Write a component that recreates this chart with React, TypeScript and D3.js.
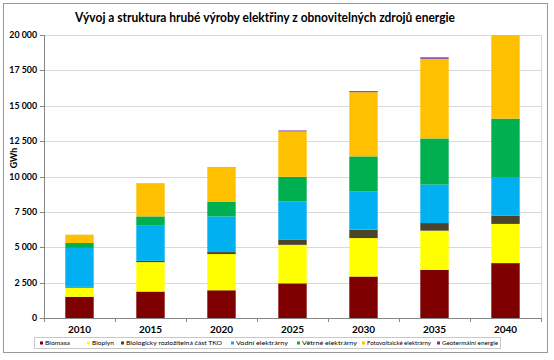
import React from 'react'
import * as d3 from 'd3'

const years = ['2010', '2015', '2020', '2025', '2030', '2035', '2040']
const biomasa = [1500, 1870, 1960, 2450, 2930, 3400, 3880]
const bioplyn = [650, 2080, 2560, 2720, 2720, 2770, 2770]
const tko = [50, 90, 140, 380, 590, 540, 590]
const vodni = [2750, 2480, 2520, 2700, 2720, 2720, 2670]
const vetrne = [350, 660, 1020, 1730, 2460, 3260, 4180]
const foto = [590, 2300, 2430, 3210, 4540, 5630, 5950]
const geo = [0, 20, 20, 60, 70, 100, 100]

const seriesNames = ['Biomasa', 'Bioplyn', 'Biologicky rozložitelná část TKO', 'Vodní elektrárny', 'Větrné elektrárny', 'Fotovoltaické elektrárny', 'Geotermální energie']
const seriesValues = [biomasa, bioplyn, tko, vodni, vetrne, foto, geo]
const colors = ['#7f0000', '#ffff00', '#4a452a', '#00b0f0', '#00b050', '#ffc000', '#7030a0']
const yTicks = [0, 2500, 5000, 7500, 10000, 12500, 15000, 17500, 20000]

// legend layout only (marker x, text width)
const legendX = [40, 87, 121, 231, 297, 362, 437]
const legendW = [25, 22, 96, 52, 55, 64, 56]

const W = 554
const H = 360
const left = 44
const right = 541
const top = 35
const bottom = 318
const font = 'Lato, "Open Sans", sans-serif'

const fmt = (v: number) => d3.format(',')(v).replace(/,/g, ' ')

export default function App() {
  const rows = years.map((y, i) => {
    const r: any = { year: y }
    seriesNames.forEach((n, k) => { r[n] = seriesValues[k][i] })
    return r
  })
  const stacked = d3.stack().keys(seriesNames)(rows)

  const x = d3.scaleBand().domain(years).range([left, right]).paddingInner(0.6).paddingOuter(0.3)
  const y = d3.scaleLinear().domain([0, 20000]).range([bottom, top])
  const step = x.step()

  return (
    <svg width={W} height={H} style={{ position: 'absolute', left: 0, top: 0, background: '#fff' }} fontFamily={font}>
      <defs>
        <clipPath id="plot"><rect x={left} y={top} width={right - left} height={bottom - top} /></clipPath>
      </defs>
      <rect x={3.5} y={3.5} width={544} height={349} fill="#fff" stroke="#9a9a9a" />
      <text x={265} y={22} textAnchor="middle" fontWeight="bold" fontSize={12.5} textLength={380} lengthAdjust="spacingAndGlyphs">
        Vývoj a struktura hrubé výroby elektřiny z obnovitelných zdrojů energie
      </text>

      {yTicks.map(t => (
        <g key={t}>
          {t > 0 && <line x1={left} x2={right} y1={Math.round(y(t)) + 0.5} y2={Math.round(y(t)) + 0.5} stroke="#d9d9d9" />}
          <line x1={left - 4} x2={left} y1={Math.round(y(t)) + 0.5} y2={Math.round(y(t)) + 0.5} stroke="#868686" />
          <text x={37} y={y(t) + 3} textAnchor="end" fontSize={8.8} fontWeight="bold">{fmt(t)}</text>
        </g>
      ))}
      <line x1={right + 0.5} x2={right + 0.5} y1={top} y2={bottom} stroke="#d9d9d9" />

      <g clipPath="url(#plot)">
        {stacked.map((s, k) => (
          <g key={s.key} fill={colors[k]}>
            {s.map((d: any) => (
              <rect key={d.data.year} x={x(d.data.year)} width={x.bandwidth()}
                y={y(d[1])} height={Math.max(0, y(d[0]) - y(d[1]))} />
            ))}
          </g>
        ))}
      </g>

      <line x1={left + 0.5} x2={left + 0.5} y1={top} y2={bottom} stroke="#868686" />
      <line x1={left} x2={right} y1={bottom + 0.5} y2={bottom + 0.5} stroke="#868686" />
      {d3.range(years.length + 1).map(i => (
        <line key={i} x1={Math.round(left + i * step) + 0.5} x2={Math.round(left + i * step) + 0.5} y1={bottom} y2={bottom + 4} stroke="#868686" />
      ))}
      {years.map(yr => (
        <text key={yr} x={(x(yr) as number) + x.bandwidth() / 2} y={333} textAnchor="middle" fontSize={10} fontWeight="bold">{yr}</text>
      ))}

      <text transform={`translate(17,158) rotate(-90)`} textAnchor="middle" fontSize={8.8} fontWeight="bold">GWh</text>

      <rect x={34.5} y={337.5} width={466} height={11} fill="#fff" stroke="#c8c8c8" />
      {seriesNames.map((n, k) => (
        <g key={n} transform={`translate(${legendX[k]},343)`}>
          <rect x={0} y={-1.5} width={3} height={3} fill={colors[k]} />
          <text x={5} y={2.2} fontSize={6.2} textLength={legendW[k]} lengthAdjust="spacingAndGlyphs">{n}</text>
        </g>
      ))}
    </svg>
  )
}
